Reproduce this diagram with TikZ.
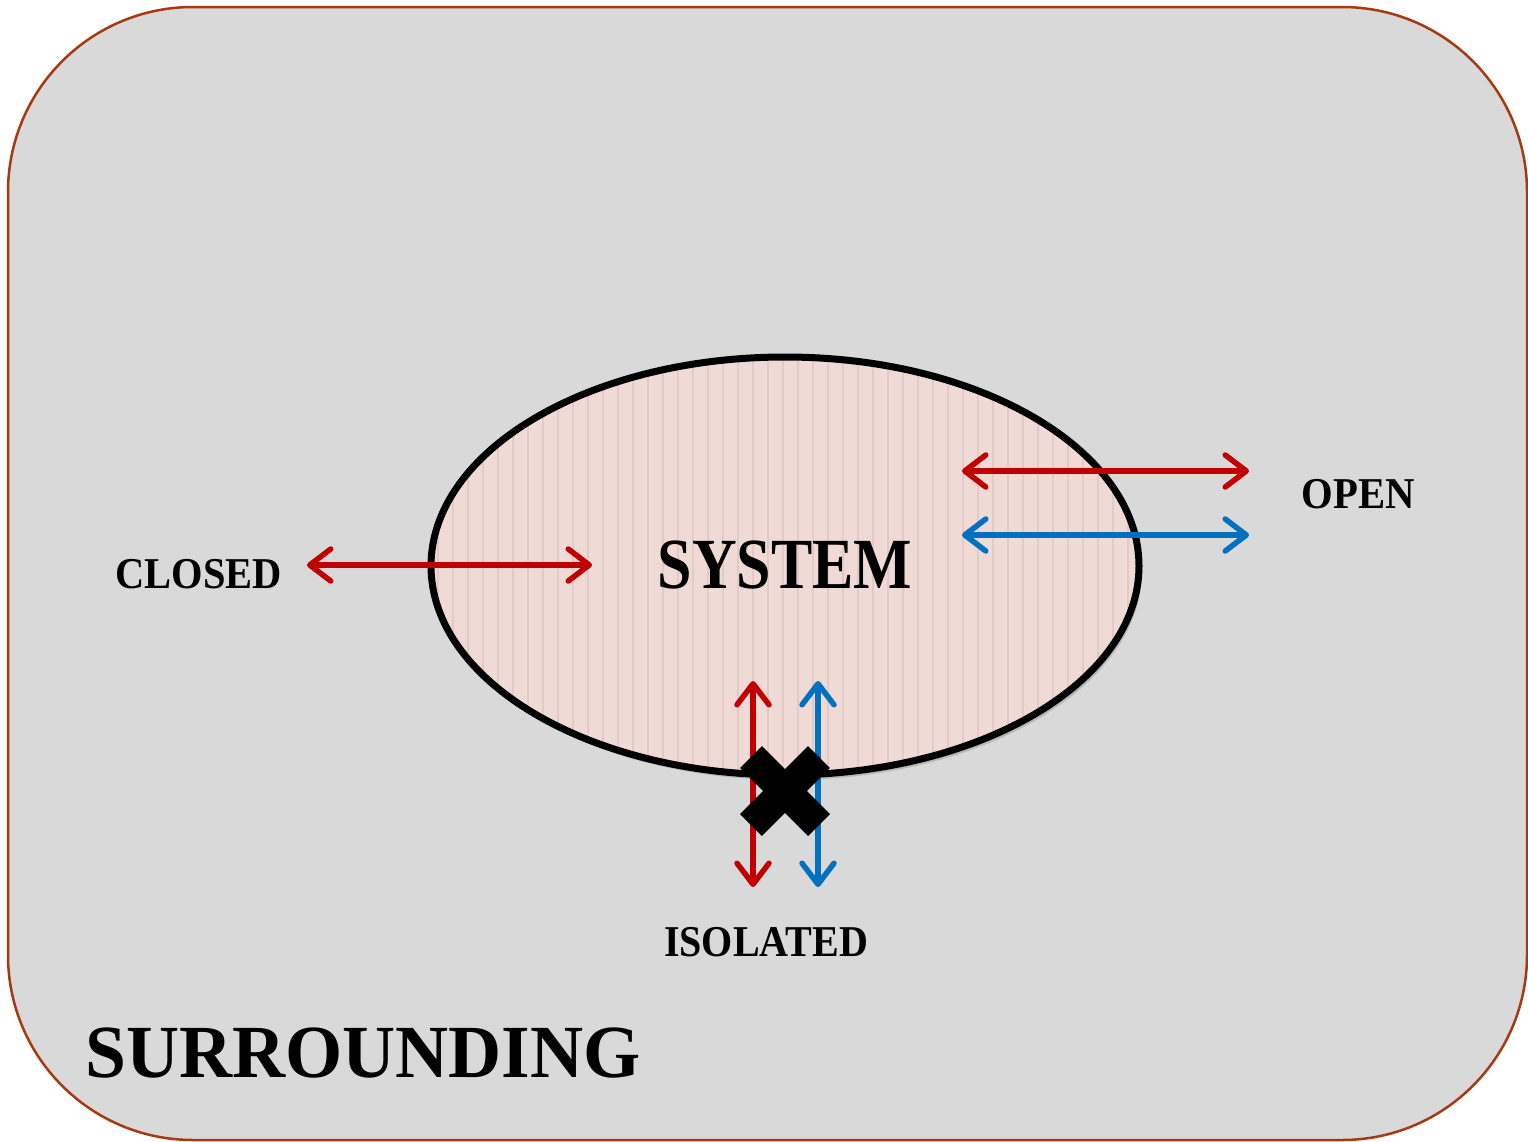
\documentclass[tikz,border=0pt]{standalone}
\usepackage{fontspec}
\setmainfont{Liberation Serif}
\usetikzlibrary{arrows.meta}

\definecolor{surround}{HTML}{D9D9D9}
\definecolor{frame}{HTML}{A33A12}
\definecolor{sysfill}{HTML}{F0DAD6}
\definecolor{sysstripe}{HTML}{E4CAC6}
\definecolor{flowred}{HTML}{C00000}
\definecolor{flowblue}{HTML}{0070C0}

\newcommand{\lbl}[3]{\scalebox{#1}[1]{\fontsize{#2}{#2}\selectfont\bfseries #3}}

\tikzset{
  flow/.style={line width=5.5pt, {Straight Barb[length=21pt,width=32pt,round]}-{Straight Barb[length=21pt,width=32pt,round]}},
  redflow/.style={flow, draw=flowred},
  blueflow/.style={flow, draw=flowblue},
  lbltext/.style={inner sep=0pt, anchor=base, text=black},
}

\begin{document}
\begin{tikzpicture}[x=1pt,y=-1pt]
  \useasboundingbox (0,0) rectangle (1528,1141);
  \begin{scope}
    \clip (0,0) rectangle (1528,1141);
    % surrounding region
    \draw[fill=surround, draw=frame, line width=2.5pt, rounded corners=185pt]
      (8,7) rectangle (1527,1140);
  \end{scope}

  % system boundary with striped fill and soft shadow
  \fill[black, opacity=0.15] (788,571) ellipse [x radius=354pt, y radius=209pt];
  \fill[sysfill] (785,566) ellipse [x radius=354pt, y radius=209pt];
  \begin{scope}
    \clip (785,566) ellipse [x radius=354pt, y radius=209pt];
    \foreach \sx in {438,453,...,1140}
      \draw[sysstripe, line width=2.5pt] (\sx,350) -- (\sx,780);
  \end{scope}
  \draw[line width=7pt] (785,566) ellipse [x radius=354pt, y radius=209pt];
  \coordinate (sys) at (785,566);

  % labels
  \node[lbltext] (system) at (785,588) {\lbl{0.86}{72pt}{SYSTEM}};
  \node[lbltext] (closed) at (199,588) {\lbl{0.92}{44pt}{CLOSED}};
  \node[lbltext] (open) at (1358,508) {\lbl{0.925}{44pt}{OPEN}};
  \node[lbltext] (isolated) at (766,956) {\lbl{0.91}{44pt}{ISOLATED}};
  \node[lbltext, anchor=base west] (surr) at (85,1077) {\lbl{0.98}{75pt}{SURROUNDING}};

  % closed: energy only
  \coordinate (c1) at (307,565);
  \coordinate (c2) at (592,565);
  \draw[redflow] (c1) -- (c2);

  % open: energy and matter
  \coordinate (o1) at (962,471);
  \coordinate (o2) at (1249,471);
  \coordinate (o3) at (962,535);
  \coordinate (o4) at (1249,535);
  \draw[redflow] (o1) -- (o2);
  \draw[blueflow] (o3) -- (o4);

  % isolated: both blocked
  \coordinate (i1) at (753,681);
  \coordinate (i2) at (753,887);
  \coordinate (i3) at (818,681);
  \coordinate (i4) at (818,887);
  \draw[redflow] (i1) -- (i2);
  \draw[blueflow] (i3) -- (i4);
  \coordinate (xc) at (785,791);
  \draw[line width=31pt, line cap=butt] ([shift={(-34,-34)}]xc) -- ([shift={(34,34)}]xc);
  \draw[line width=31pt, line cap=butt] ([shift={(34,-34)}]xc) -- ([shift={(-34,34)}]xc);
\end{tikzpicture}
\end{document}
